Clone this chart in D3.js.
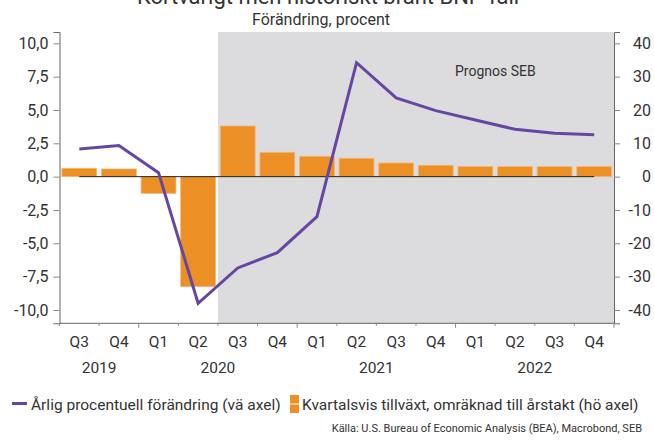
<!DOCTYPE html>
<html>
<head>
<meta charset="utf-8">
<script src="https://cdn.jsdelivr.net/npm/d3@7"></script>
<style>
  body { margin: 0; background: #fff; }
  svg { font-family: Roboto, "Noto Sans", sans-serif; }
</style>
</head>
<body>
<div id="chart"></div>
<script>
// Chart data, Q3 2019 - Q4 2022
const quarters = ["Q3","Q4","Q1","Q2","Q3","Q4","Q1","Q2","Q3","Q4","Q1","Q2","Q3","Q4"];
const years = ["2019","2020","2021","2022"];
const yearQuarters = [2, 4, 4, 4]; // number of quarters shown per year
const annualChange = [2.08, 2.33, 0.3, -9.5, -6.85, -5.7, -3.0, 8.55, 5.9, 4.95, 4.25, 3.55, 3.25, 3.15]; // left axis
const quarterlyAnnualized = [2.5, 2.3, -5.0, -33.0, 15.2, 7.3, 6.1, 5.5, 4.1, 3.4, 3.0, 3.0, 3.0, 3.0]; // right axis
const leftTicks = [-10, -7.5, -5, -2.5, 0, 2.5, 5, 7.5, 10];
const rightTicks = [-40, -30, -20, -10, 0, 10, 20, 30, 40];
const forecastStart = 4; // first forecast quarter (Q3 2020)

const width = 654;
const height = 441;
const plot = {left: 59.5, right: 614, top: 32, bottom: 323.3};

const purple = "#6547a3";
const orange = "#ec8f25";
const textCol = "#333";

const svg = d3.select("#chart")
  .append("svg")
  .attr("width", width)
  .attr("height", height);

const svLocale = d3.formatLocale({decimal: ",", thousands: " ", grouping: [3], currency: ["", " kr"], minus: "-"});

// scales
const x = d3.scaleBand()
  .domain(d3.range(quarters.length))
  .range([plot.left, plot.right])
  .paddingInner(0.12)
  .paddingOuter(0.06);

const yLeft = d3.scaleLinear()
  .domain([-11, 10.85])
  .range([plot.bottom, plot.top]);

const yRight = d3.scaleLinear()
  .domain([-44, 43.4])
  .range([plot.bottom, plot.top]);

const step = x.step();
const bandStart = i => plot.left + i * step;

// forecast shading
svg.append("rect")
  .attr("x", bandStart(forecastStart))
  .attr("y", plot.top)
  .attr("width", plot.right - bandStart(forecastStart))
  .attr("height", plot.bottom - plot.top)
  .attr("fill", "#dcdcde");

svg.append("text")
  .attr("x", 455)
  .attr("y", 76)
  .attr("font-size", 14)
  .attr("fill", textCol)
  .text("Prognos SEB");

// bars (right axis)
svg.selectAll(".bar")
  .data(quarterlyAnnualized)
  .enter()
  .append("rect")
    .attr("class", "bar")
    .attr("x", (d, i) => x(i))
    .attr("y", d => yRight(Math.max(0, d)))
    .attr("width", x.bandwidth())
    .attr("height", d => Math.abs(yRight(d) - yRight(0)))
    .attr("fill", orange)
    .attr("stroke", "#f4b673")
    .attr("stroke-width", 0.8);

// zero line
svg.append("line")
  .attr("x1", x(0) + x.bandwidth() / 2)
  .attr("x2", x(quarters.length - 1) + x.bandwidth() / 2)
  .attr("y1", yLeft(0))
  .attr("y2", yLeft(0))
  .attr("stroke", "#222")
  .attr("stroke-width", 1);

// line (left axis)
const line = d3.line()
  .x((d, i) => x(i) + x.bandwidth() / 2)
  .y(d => yLeft(d));

svg.append("path")
  .datum(annualChange)
  .attr("d", line)
  .attr("fill", "none")
  .attr("stroke", purple)
  .attr("stroke-width", 3);

// left axis
const axL = svg.append("g")
  .attr("transform", `translate(${plot.left},0)`)
  .call(d3.axisLeft(yLeft)
    .tickValues(leftTicks)
    .tickFormat(svLocale.format(".1f"))
    .tickSizeOuter(0)
    .tickSize(6)
    .tickPadding(5));

// right axis
const axR = svg.append("g")
  .attr("transform", `translate(${plot.right},0)`)
  .call(d3.axisRight(yRight)
    .tickValues(rightTicks)
    .tickFormat(svLocale.format("d"))
    .tickSizeOuter(0)
    .tickSize(6)
    .tickPadding(31));
axR.selectAll("text").attr("text-anchor", "end");

[axL, axR].forEach(g => {
  g.select(".domain").attr("stroke", "#666");
  g.selectAll(".tick line").attr("stroke", "#888");
  g.selectAll("text").attr("font-size", 16).attr("fill", textCol).attr("font-family", "Roboto, sans-serif");
});

// bottom axis
const xAxis = svg.append("g");
xAxis.append("line")
  .attr("x1", plot.left).attr("x2", plot.right)
  .attr("y1", plot.bottom).attr("y2", plot.bottom)
  .attr("stroke", "#666");

const yearBounds = [0];
yearQuarters.forEach(n => yearBounds.push(yearBounds[yearBounds.length - 1] + n));

xAxis.selectAll(".qtick")
  .data(d3.range(quarters.length + 1))
  .enter()
  .append("line")
    .attr("x1", i => bandStart(i))
    .attr("x2", i => bandStart(i))
    .attr("y1", plot.bottom)
    .attr("y2", i => plot.bottom + (yearBounds.includes(i) && i > 0 ? 4.5 : 2.5))
    .attr("stroke", "#888");

xAxis.selectAll(".qlabel")
  .data(quarters)
  .enter()
  .append("text")
    .attr("x", (d, i) => x(i) + x.bandwidth() / 2)
    .attr("y", 347)
    .attr("text-anchor", "middle")
    .attr("font-size", 15.5)
    .attr("fill", textCol)
    .text(d => d);

xAxis.selectAll(".ylabel")
  .data(years)
  .enter()
  .append("text")
    .attr("x", (d, i) => (bandStart(yearBounds[i]) + bandStart(yearBounds[i + 1])) / 2)
    .attr("y", 373)
    .attr("text-anchor", "middle")
    .attr("font-size", 15.5)
    .attr("fill", textCol)
    .text(d => d);

// titles
svg.append("text")
  .attr("x", 328)
  .attr("y", 4)
  .attr("text-anchor", "middle")
  .attr("font-size", 22)
  .attr("fill", textCol)
  .text("Kortvarigt men historiskt brant BNP-fall");

svg.append("text")
  .attr("x", 321)
  .attr("y", 25)
  .attr("text-anchor", "middle")
  .attr("font-size", 16)
  .attr("fill", textCol)
  .text("Förändring, procent");

// legend
const legend = svg.append("g");
legend.append("line")
  .attr("x1", 12).attr("x2", 27)
  .attr("y1", 403.5).attr("y2", 403.5)
  .attr("stroke", purple)
  .attr("stroke-width", 3);
legend.append("text")
  .attr("x", 31).attr("y", 410)
  .attr("font-size", 15.5)
  .attr("fill", textCol)
  .text("Årlig procentuell förändring (vä axel)");
legend.append("rect")
  .attr("x", 290).attr("y", 395)
  .attr("width", 9).attr("height", 8.5)
  .attr("fill", orange);
legend.append("rect")
  .attr("x", 290).attr("y", 404.5)
  .attr("width", 9).attr("height", 8.5)
  .attr("fill", orange);
legend.append("text")
  .attr("x", 302).attr("y", 410)
  .attr("font-size", 15.5)
  .attr("fill", textCol)
  .text("Kvartalsvis tillväxt, omräknad till årstakt (hö axel)");

svg.append("text")
  .attr("x", 642).attr("y", 432)
  .attr("text-anchor", "end")
  .attr("font-size", 11)
  .attr("fill", textCol)
  .text("Källa: U.S. Bureau of Economic Analysis (BEA), Macrobond, SEB");
</script>
</body>
</html>
